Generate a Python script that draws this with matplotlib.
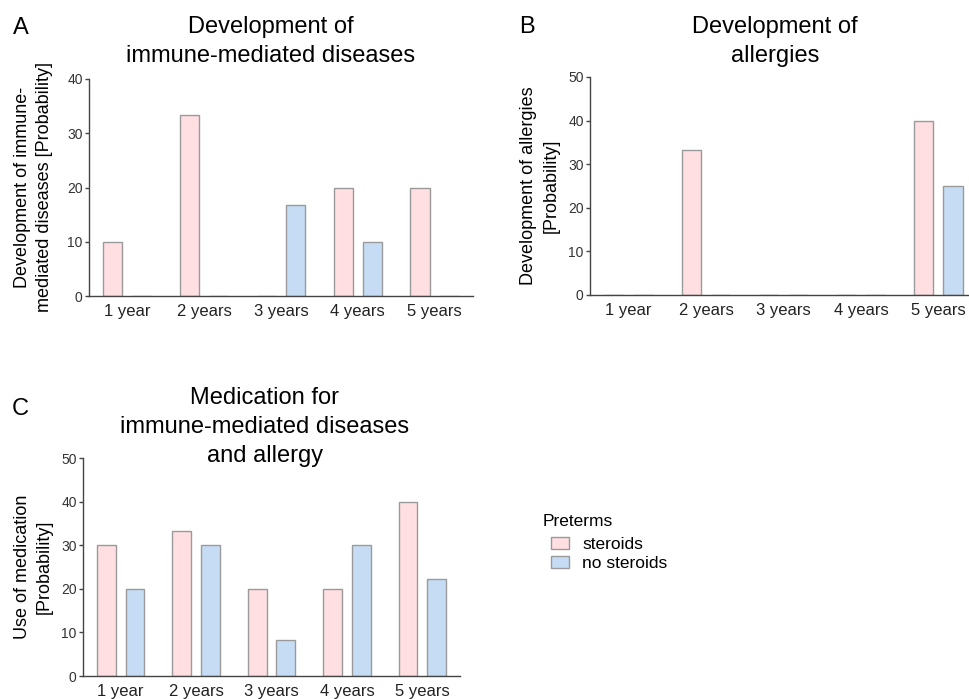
import numpy as np
import matplotlib.pyplot as plt
from matplotlib.patches import Patch

plt.rcParams['font.family'] = ['Liberation Sans', 'DejaVu Sans']

years = ['1 year', '2 years', '3 years', '4 years', '5 years']

# probabilities (%) per follow-up year
immune_steroids = [10, 33.3, 0, 20, 20]
immune_no_steroids = [0, 0, 16.7, 10, 0]
allergy_steroids = [0, 33.3, 0, 0, 40]
allergy_no_steroids = [0, 0, 0, 0, 25]
medication_steroids = [30, 33.3, 20, 20, 40]
medication_no_steroids = [20, 30, 8.3, 30, 22.2]

pink = '#ffdfe1'
blue = '#c6dcf5'
edge = '#9a9a9a'
W, H = 970, 699

fig = plt.figure(figsize=(9.7, 6.99), dpi=100)


def px(x0, y0, x1, y1):
    # pixel box (left, top, right, bottom) -> figure rect
    return [x0 / W, 1 - y1 / H, (x1 - x0) / W, (y1 - y0) / H]


def panel(rect, s, ns, ymax, ylabel, labx):
    ax = fig.add_axes(rect)
    x = np.arange(len(years))
    ax.bar(x - 0.19, s, 0.25, color=pink, edgecolor=edge, linewidth=1.0)
    ax.bar(x + 0.19, ns, 0.25, color=blue, edgecolor=edge, linewidth=1.0)
    ax.set_xlim(-0.5, 4.5)
    ax.set_ylim(0, ymax)
    ax.set_yticks(np.arange(0, ymax + 1, 10))
    ax.set_xticks(x)
    ax.set_xticklabels(years)
    for sp in ['top', 'right']:
        ax.spines[sp].set_visible(False)
    for sp in ['left', 'bottom']:
        ax.spines[sp].set_color('#444444')
        ax.spines[sp].set_linewidth(1.0)
    ax.tick_params(axis='x', length=0, pad=6, labelsize=12, colors='#222222')
    ax.tick_params(axis='y', length=3, width=1.0, pad=1.5, labelsize=10,
                   color='#444444', labelcolor='#333333')
    ax.set_ylabel(ylabel, fontsize=13, va='center', linespacing=1.4)
    ax.yaxis.set_label_coords(labx, 0.5)
    return ax


panel(px(89, 79, 473, 296), immune_steroids, immune_no_steroids, 40,
      'Development of immune-\nmediated diseases [Probability]', -0.145)
panel(px(590, 77, 977, 295), allergy_steroids, allergy_no_steroids, 50,
      'Development of allergies\n[Probability]', -0.129)
panel(px(83, 458, 460, 676), medication_steroids, medication_no_steroids, 50,
      'Use of medication\n[Probability]', -0.131)


def ftext(x, y, s, **kw):
    # y is the baseline of the last line, in pixels from the top
    fig.text(x / W, 1 - y / H, s, va='baseline', **kw)


# panel titles
ftext(271, 62, 'Development of\nimmune-mediated diseases', ha='center',
      fontsize=17, multialignment='center', linespacing=1.4)
ftext(775, 62, 'Development of\nallergies', ha='center', fontsize=17,
      multialignment='center', linespacing=1.4)
ftext(265, 462, 'Medication for\nimmune-mediated diseases\nand allergy',
      ha='center', fontsize=17, multialignment='center', linespacing=1.4)

# panel letters
ftext(13, 34, 'A', fontsize=17)
ftext(519, 33, 'B', fontsize=17)
ftext(12, 415, 'C', fontsize=17)

# legend
ftext(543, 526, 'Preterms', fontsize=12.5)
handles = [Patch(facecolor=pink, edgecolor=edge, label='steroids'),
           Patch(facecolor=blue, edgecolor=edge, label='no steroids')]
fig.legend(handles=handles, loc='upper left',
           bbox_to_anchor=(551 / W, 1 - 537 / H), frameon=False,
           fontsize=12.5, handlelength=1.05, handleheight=0.72,
           handletextpad=0.75, labelspacing=0.2, borderpad=0,
           borderaxespad=0)

fig.savefig('out.png', dpi=100)
